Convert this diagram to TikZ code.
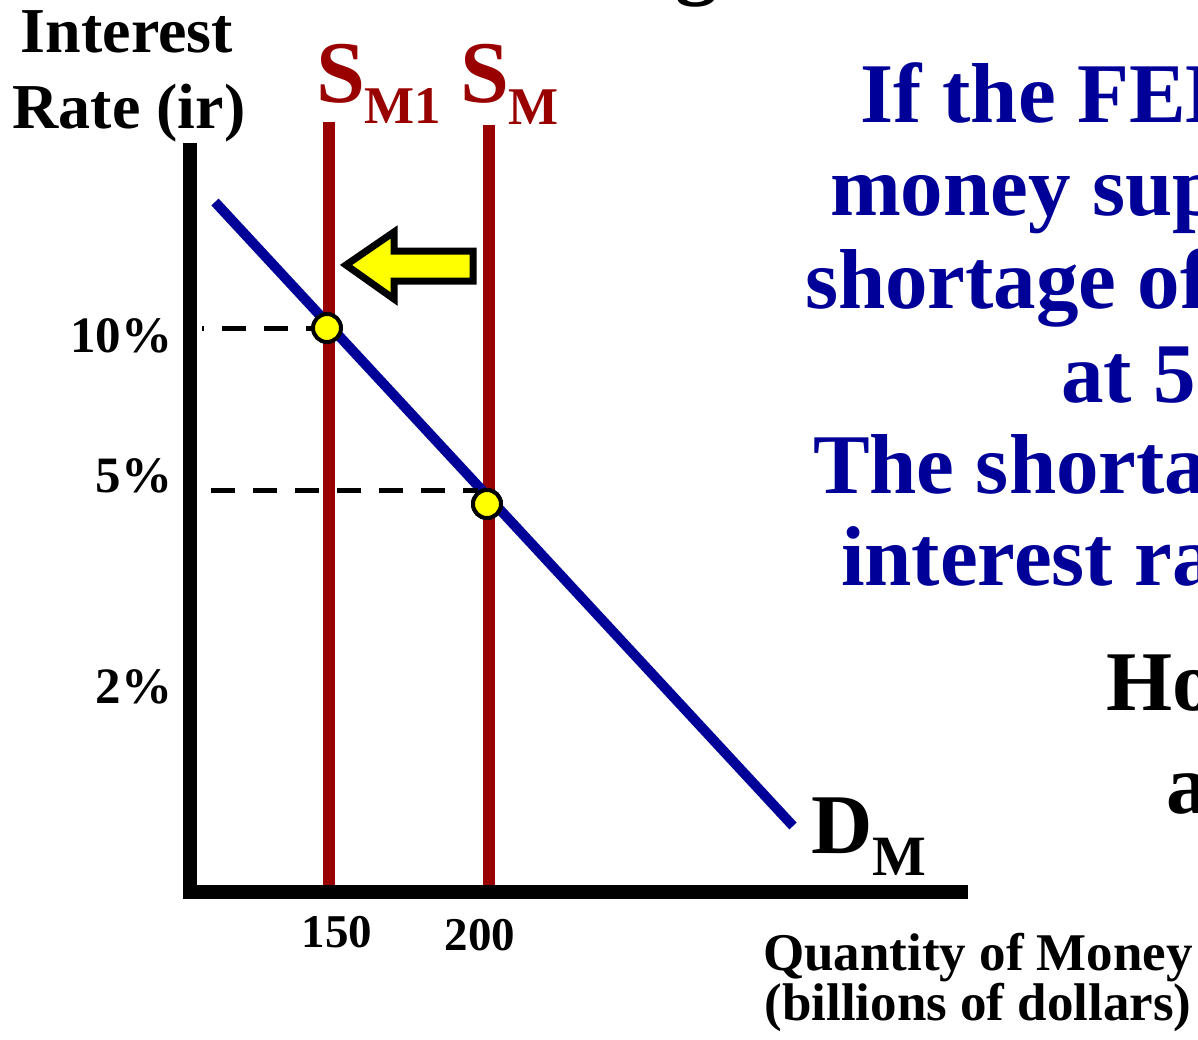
\documentclass[tikz,border=0pt]{standalone}
\usepackage{fontspec}
\setmainfont{Liberation Serif}
\definecolor{smred}{RGB}{153,0,0}
\definecolor{dmblue}{RGB}{0,0,153}
\definecolor{ptyellow}{RGB}{255,255,0}
\begin{document}
\begin{tikzpicture}[x=1pt,y=-1pt,
  lbl/.style={inner sep=0pt, outer sep=0pt},
  bigblue/.style={lbl, text=dmblue, anchor=base west, font=\fontsize{85}{92}\selectfont\bfseries},
  bigblack/.style={lbl, text=black, anchor=base west, font=\fontsize{85}{92}\selectfont\bfseries},
  axislbl/.style={lbl, anchor=base, font=\fontsize{64}{76}\selectfont\bfseries},
  qlbl/.style={lbl, anchor=base, font=\fontsize{53}{60}\selectfont\bfseries},
  pctlbl/.style={lbl, anchor=base east, font=\fontsize{51}{56}\selectfont\bfseries},
  ticklbl/.style={lbl, anchor=base, font=\fontsize{47}{52}\selectfont\bfseries},
  supplyln/.style={draw=smred, line width=12pt},
  demandln/.style={draw=dmblue, line width=10pt},
  axisln/.style={draw=black, line width=14pt, line join=miter},
  dashln/.style={draw=black, line width=5pt, dash pattern=on 24pt off 18pt},
  eqpt/.style={circle, fill=ptyellow, draw=black, line width=4pt, minimum size=28pt, inner sep=0pt},
  shiftarrow/.style={fill=ptyellow, draw=black, line width=7pt, line join=miter}
]
\useasboundingbox (0,0) rectangle (1198,1039);

% coordinates
\coordinate (s1top) at (329,122);
\coordinate (s1bot) at (329,886);
\coordinate (s2top) at (489,125);
\coordinate (s2bot) at (489,886);
\coordinate (dtop) at (215,202);
\coordinate (dbot) at (793,826);
\coordinate (ytop) at (190,143);
\coordinate (origin) at (190,892);
\coordinate (xend) at (968,892);
\coordinate (d10start) at (202,328);
\coordinate (d5start) at (211,490);
\coordinate (d5end) at (478,490);

% supply lines
\draw[supplyln] (s1top) -- (s1bot);
\draw[supplyln] (s2top) -- (s2bot);
% demand line
\draw[demandln] (dtop) -- (dbot);

% equilibrium points
\node[eqpt] (p1) at (327,328) {};
\node[eqpt] (p2) at (487,504) {};

% dashed guides
\draw[dashln, dash phase=22pt] (d10start) -- (p1);
\draw[dashln] (d5start) -- (d5end);
\node[eqpt] at (p2) {};

% axes
\draw[axisln] (ytop) -- (origin) -- (xend);

% shift arrow
\draw[shiftarrow] (346,265) -- (394,232) -- (394,251) -- (473,251) -- (473,281) -- (394,281) -- (394,299) -- cycle;

% axis labels
\node[axislbl] (yl1) at (127,52) {Interest};
\node[axislbl] (yl2) at (129,128) {Rate (ir)};
\node[qlbl] (xl1) at (978,970) {Quantity of Money};
\node[qlbl] (xl2) at (978,1020) {(billions of dollars)};

% tick labels
\node[pctlbl] (t10) at (172,352) {10\%};
\node[pctlbl] (t5) at (172,492) {5\%};
\node[pctlbl] (t2) at (172,703) {2\%};
\node[ticklbl] (t150) at (337,947) {150};
\node[ticklbl] (t200) at (480,950) {200};

% curve labels
\node[lbl, anchor=base west, text=smred, font=\bfseries] (sm1) at (316,102)
  {{\fontsize{88}{88}\selectfont S}{\fontsize{53}{53}\selectfont\raisebox{-21pt}{M1}}};
\node[lbl, anchor=base west, text=smred, font=\bfseries] (sm) at (460,102)
  {{\fontsize{88}{88}\selectfont S}{\fontsize{53}{53}\selectfont\raisebox{-22pt}{M}}};
\node[lbl, anchor=base west, text=black, font=\bfseries] (dm) at (811,853)
  {{\fontsize{85}{85}\selectfont D}{\fontsize{57}{57}\selectfont\raisebox{-22pt}{M}}};

% title fragment
\node[lbl, anchor=base, font=\fontsize{85}{92}\selectfont\bfseries] (title) at (697,-12) {g};

% right-hand text (cut by the page edge)
\node[bigblue] (r1) at (860,122) {If the FED};
\node[bigblue] (r2) at (830,215) {money sup};
\node[bigblue] (r3) at (805,308) {shortage of};
\node[bigblue] (r4) at (1061,402) {at 5};
\node[bigblue] (r5) at (813,493) {The shorta};
\node[bigblue] (r6) at (841,585) {interest ra};
\node[bigblack] (r7) at (1106,710) {Ho};
\node[bigblack] (r8) at (1166,813) {a};
\end{tikzpicture}
\end{document}
